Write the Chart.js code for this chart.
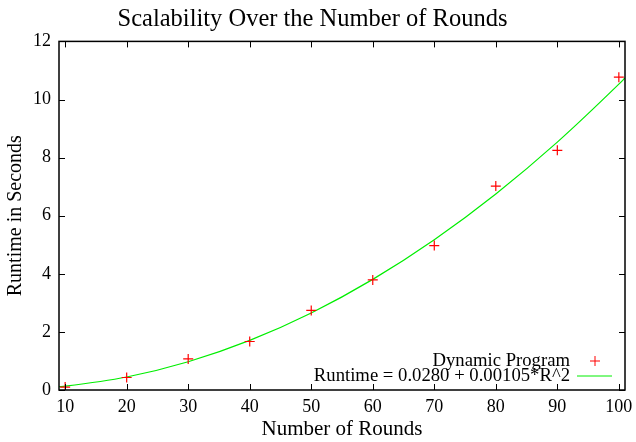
<!DOCTYPE html>
<html>
<head>
<meta charset="utf-8">
<script src="https://cdn.jsdelivr.net/npm/chart.js@4/dist/chart.umd.min.js"></script>
<style>
  html, body { margin: 0; padding: 0; background: #fff; }
  #wrap { width: 636px; height: 442px; }
</style>
</head>
<body>
<div id="wrap"><canvas id="scaleChart"></canvas></div>
<script>
// measured runtimes
const rounds = [10, 20, 30, 40, 50, 60, 70, 80, 90, 100];
const runtimes = [0.1, 0.43, 1.07, 1.67, 2.74, 3.79, 4.97, 7.02, 8.25, 10.77];

// fitted curve
const fitRounds = [9, 10, 20, 30, 40, 50, 60, 70, 80, 90, 100, 101];
const fitRuntimes = [0.113, 0.133, 0.448, 0.973, 1.708, 2.653, 3.808, 5.173, 6.748, 8.533, 10.528, 10.74];

const xTicks = [10, 20, 30, 40, 50, 60, 70, 80, 90, 100];
const yTicks = [0, 2, 4, 6, 8, 10, 12];

const serif = "'Liberation Serif', 'DejaVu Serif', serif";
const ctx = document.getElementById("scaleChart").getContext("2d");

// gnuplot-like frame: box all round, ticks pointing inwards on all four sides
const framePlugin = {
  id: "frame",
  afterDatasetsDraw(chart) {
    const { ctx, chartArea: a, scales } = chart;
    ctx.save();
    ctx.strokeStyle = "#000";
    ctx.lineWidth = 1;
    ctx.beginPath();
    xTicks.forEach((v) => {
      const px = Math.round(scales.x.getPixelForValue(v)) + 0.5;
      ctx.moveTo(px, a.bottom); ctx.lineTo(px, a.bottom - 6);
      ctx.moveTo(px, a.top); ctx.lineTo(px, a.top + 6);
    });
    yTicks.forEach((v) => {
      const py = Math.round(scales.y.getPixelForValue(v)) + 0.5;
      ctx.moveTo(a.left, py); ctx.lineTo(a.left + 6, py);
      ctx.moveTo(a.right, py); ctx.lineTo(a.right - 6, py);
    });
    ctx.stroke();
    ctx.lineWidth = 1.5;
    ctx.strokeRect(a.left, a.top, a.right - a.left, a.bottom - a.top);

    // key, bottom right
    const ds = chart.data.datasets;
    ctx.font = "18.7px " + serif;
    ctx.fillStyle = "#000";
    ctx.textAlign = "right";
    ctx.textBaseline = "middle";
    const textRight = a.right - 55;
    const rows = [a.bottom - 29, a.bottom - 14];
    ds.forEach((d, i) => {
      const y = rows[i];
      ctx.fillText(d.label, textRight, y);
      ctx.strokeStyle = d.borderColor;
      ctx.lineWidth = 1;
      ctx.beginPath();
      if (d.showLine === false) {
        const cx = a.right - 30;
        ctx.moveTo(cx - 5, y); ctx.lineTo(cx + 5, y);
        ctx.moveTo(cx, y - 5); ctx.lineTo(cx, y + 5);
      } else {
        ctx.moveTo(a.right - 48, y); ctx.lineTo(a.right - 13, y);
      }
      ctx.stroke();
    });
    ctx.restore();
  },
};

new Chart(ctx, {
  type: "scatter",
  data: {
    datasets: [
      {
        label: "Dynamic Program",
        data: rounds.map((r, i) => ({ x: r, y: runtimes[i] })),
        showLine: false,
        pointStyle: "cross",
        pointRadius: 5,
        borderColor: "rgba(255, 0, 0, 1)",
        borderWidth: 1.2,
        order: 0,
      },
      {
        label: "Runtime = 0.0280 + 0.00105*R^2",
        data: fitRounds.map((r, i) => ({ x: r, y: fitRuntimes[i] })),
        showLine: true,
        tension: 0.4,
        cubicInterpolationMode: "monotone",
        pointRadius: 0,
        borderColor: "#00ee00",
        borderWidth: 1.2,
        order: 1,
      },
    ],
  },
  options: {
    responsive: true,
    maintainAspectRatio: false,
    animation: false,
    layout: { padding: { right: 11, top: 0 } },
    plugins: {
      legend: { display: false },
      tooltip: { enabled: false },
      title: {
        display: true,
        text: "Scalability Over the Number of Rounds",
        color: "#000",
        font: { family: serif, size: 24.5, weight: "normal" },
        padding: { top: 5, bottom: 7 },
      },
    },
    scales: {
      x: {
        type: "linear",
        min: 9,
        max: 101,
        afterBuildTicks: (s) => { s.ticks = xTicks.map((v) => ({ value: v })); },
        afterFit: (s) => { s.height = 52; s.paddingLeft = 0; s.paddingRight = 0; },
        grid: { display: false, drawTicks: false },
        border: { display: false },
        ticks: { color: "#000", font: { family: serif, size: 18 }, padding: 6, maxRotation: 0 },
        title: {
          display: true,
          text: "Number of Rounds",
          color: "#000",
          font: { family: serif, size: 21 },
          padding: { top: 0, bottom: 0 },
        },
      },
      y: {
        min: 0,
        max: 12,
        afterBuildTicks: (s) => { s.ticks = yTicks.map((v) => ({ value: v })); },
        afterFit: (s) => { s.width = 59; s.paddingTop = 0; s.paddingBottom = 0; },
        grid: { display: false, drawTicks: false },
        border: { display: false },
        ticks: { color: "#000", font: { family: serif, size: 18 }, padding: 8 },
        title: {
          display: true,
          text: "Runtime in Seconds",
          color: "#000",
          font: { family: serif, size: 20 },
          padding: { bottom: 0 },
        },
      },
    },
  },
  plugins: [framePlugin],
});
</script>
</body>
</html>
